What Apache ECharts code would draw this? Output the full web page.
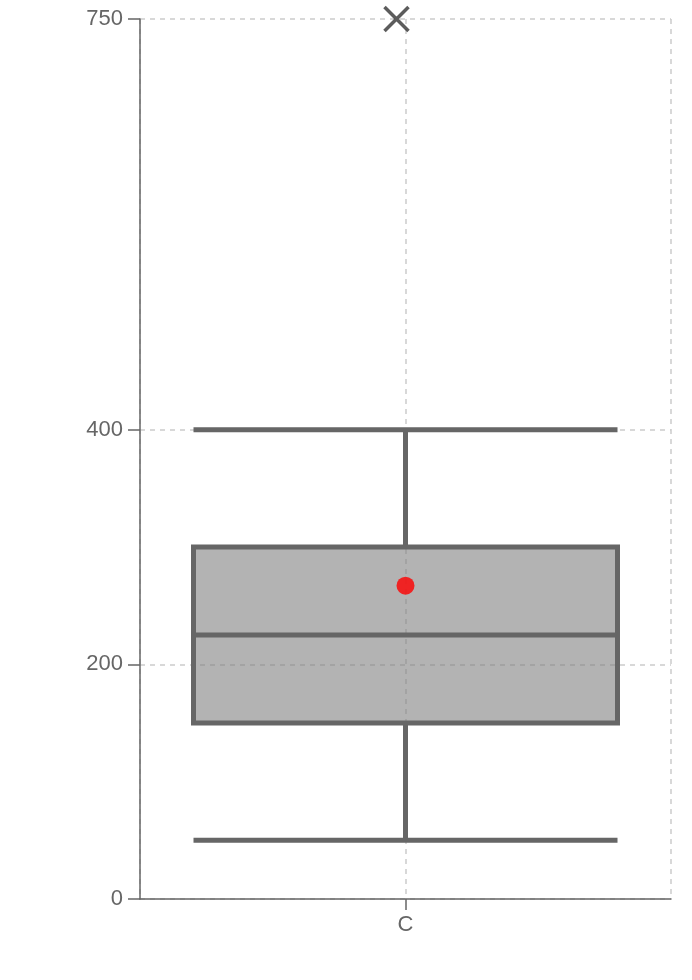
<!DOCTYPE html>
<html>
<head>
<meta charset="utf-8">
<script src="https://cdn.jsdelivr.net/npm/echarts@6/dist/echarts.min.js"></script>
<style>html,body{margin:0;padding:0;background:#fff}#c{width:692px;height:980px}</style>
</head>
<body>
<div id="c"></div>
<script>
var categories = ['C'];
// [min, Q1, median, Q3, max]
var boxValues = [[50, 150, 225, 300, 400]];
var meanValues = [267];
var outlierValues = [750];
var yTicks = [0, 200, 400, 750];

var chart = echarts.init(document.getElementById('c'), null, {renderer: 'canvas'});
var font = 'Liberation Sans, Arial, sans-serif';
chart.setOption({
  animation: false,
  grid: {left: 140, right: 21, top: 19, bottom: 81, containLabel: false},
  xAxis: [{
    type: 'category',
    data: categories,
    boundaryGap: true,
    axisLine: {show: true, onZero: false, lineStyle: {color: '#666', width: 1.5}},
    axisTick: {show: true, alignWithLabel: true, length: 11, lineStyle: {color: '#666', width: 1.5}},
    axisLabel: {color: '#666', fontSize: 22, fontFamily: font, margin: 15},
    splitLine: {show: false}
  }, {
    type: 'value',
    min: -1, max: 1, interval: 1,
    show: true,
    position: 'top',
    axisLine: {show: false, onZero: false},
    axisTick: {show: false},
    axisLabel: {show: false},
    splitLine: {show: true, lineStyle: {color: '#ccc', type: [5, 5], width: 1.5}}
  }],
  yAxis: {
    type: 'value',
    min: 0, max: 750, interval: 50,
    position: 'left',
    axisLine: {show: true, onZero: false, lineStyle: {color: '#666', width: 1.5}},
    axisTick: {show: true, length: 12, customValues: yTicks, lineStyle: {color: '#666', width: 1.5}},
    axisLabel: {color: '#666', fontSize: 22, fontFamily: font, margin: 17, customValues: yTicks},
    splitLine: {show: true, lineStyle: {color: '#ccc', type: [5, 5], width: 1.5}}
  },
  series: [{
    type: 'boxplot',
    data: boxValues,
    boxWidth: [424, 424],
    itemStyle: {color: 'rgba(128,128,128,0.6)', borderColor: '#666', borderWidth: 5},
    z: 3
  }, {
    type: 'scatter',
    data: meanValues,
    symbol: 'circle',
    symbolSize: 18,
    itemStyle: {color: '#ff0000'},
    z: 5
  }, {
    type: 'scatter',
    data: outlierValues,
    symbol: 'path://M0,0L10,10M10,0L0,10',
    symbolSize: 24,
    symbolOffset: [-9, 0],
    itemStyle: {color: 'none', borderColor: '#333', borderWidth: 3.5},
    z: 5
  }]
});
</script>
</body>
</html>
